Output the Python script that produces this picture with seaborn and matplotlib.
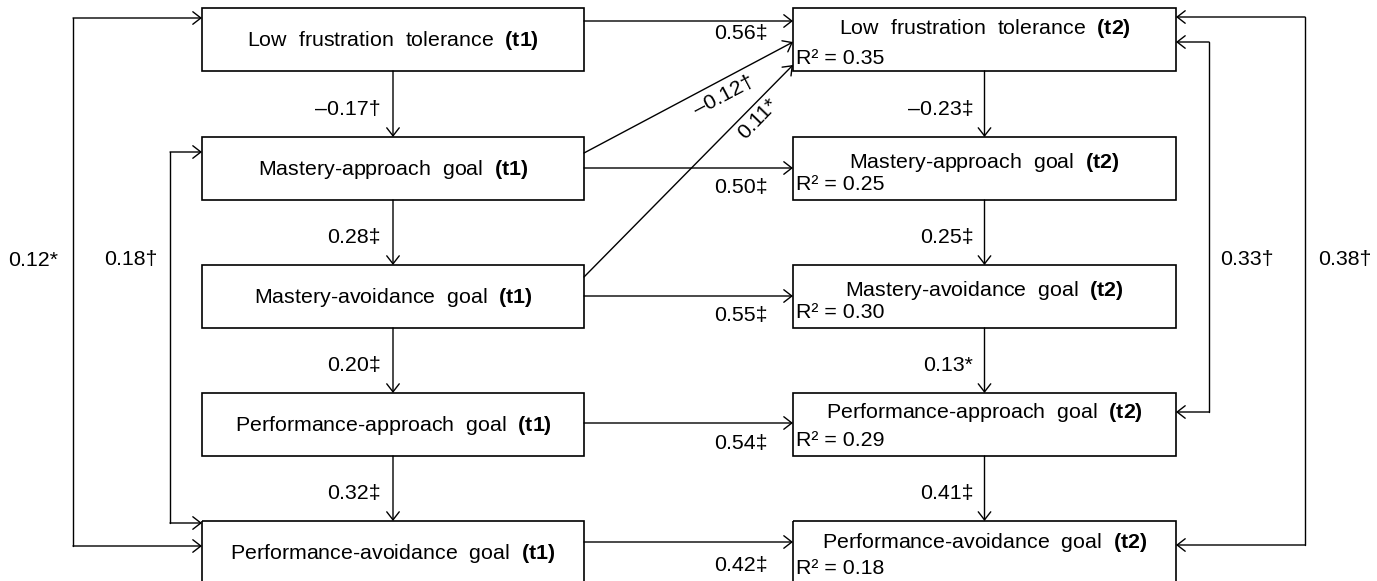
import matplotlib
matplotlib.use("Agg")
import matplotlib.pyplot as plt
import seaborn as sns
from matplotlib.patches import Rectangle, FancyArrowPatch

# ---------------- data ----------------
constructs = ["Low  frustration  tolerance", "Mastery-approach  goal",
              "Mastery-avoidance  goal", "Performance-approach  goal",
              "Performance-avoidance  goal"]
r2_t2 = [0.35, 0.25, 0.30, 0.29, 0.18]
stability = ["0.56‡", "0.50‡", "0.55‡", "0.54‡", "0.42‡"]
t1_paths = ["–0.17†", "0.28‡", "0.20‡", "0.32‡"]
t2_paths = ["–0.23‡", "0.25‡", "0.13*", "0.41‡"]
cross_lagged = ["–0.12†", "0.11*"]
t1_cov = ["0.12*", "0.18†"]
t2_cov = ["0.33†", "0.38†"]

# ---------------- layout (pixels) ----------------
W, H = 1377, 581
box_top = [8, 137, 265, 393, 521]
box_h = 63
LX0, LX1 = 202, 584
RX0, RX1 = 793, 1176
arrow_y = [21, 168, 296, 423, 542]
stab_lab_y = [33, 188, 315, 443, 565]
t2_title_off = [20, 25, 25, 19, 22]
t2_r2_off = [50, 48, 47, 47, 47]

sns.set_theme(style="white")
plt.rcParams["font.family"] = ["Liberation Sans", "DejaVu Sans"]
plt.rcParams["mathtext.fontset"] = "custom"
plt.rcParams["mathtext.rm"] = "Liberation Sans"
plt.rcParams["mathtext.bf"] = "Liberation Sans:bold"
plt.rcParams["text.color"] = "black"

FS = 15.4
LW = 1.0
fig = plt.figure(figsize=(W / 100, H / 100), dpi=100)
ax = fig.add_axes([0, 0, 1, 1])
ax.set_xlim(0, W)
ax.set_ylim(H, 0)
ax.axis("off")

def arrow(p0, p1):
    a = FancyArrowPatch(p0, p1, arrowstyle="->,head_length=0.58,head_width=0.45",
                        mutation_scale=10, lw=LW, color="black",
                        shrinkA=0, shrinkB=0)
    ax.add_patch(a)

lcx = (LX0 + LX1) / 2
rcx = (RX0 + RX1) / 2

def txt(x, y, s, **kw):
    ax.text(x, y, s, fontsize=FS, color="black", **kw)

for i, name in enumerate(constructs):
    t = box_top[i]
    ax.add_patch(Rectangle((LX0, t), LX1 - LX0, box_h, fill=False, lw=1.2, ec="black"))
    ax.add_patch(Rectangle((RX0, t), RX1 - RX0, box_h, fill=False, lw=1.2, ec="black"))
    txt(lcx, t + box_h / 2 + 1, name + "  $\\mathbf{(t1)}$", ha="center", va="center")
    txt(rcx, t + t2_title_off[i], name + "  $\\mathbf{(t2)}$", ha="center", va="center")
    txt(RX0 + 3, t + t2_r2_off[i], f"R² = {r2_t2[i]:.2f}", ha="left", va="center")
    # stability paths
    arrow((LX1, arrow_y[i]), (RX0, arrow_y[i]))
    txt(768, stab_lab_y[i], stability[i], ha="right", va="center")

# within-time paths
for i in range(4):
    y0 = box_top[i] + box_h
    y1 = box_top[i + 1]
    arrow((lcx, y0), (lcx, y1))
    arrow((rcx, y0), (rcx, y1))
    ym = (y0 + y1) / 2 + 5
    txt(lcx - 12, ym, t1_paths[i], ha="right", va="center")
    txt(rcx - 11, ym, t2_paths[i], ha="right", va="center")

# cross-lagged paths
arrow((LX1, 153), (RX0, 42))
arrow((LX1, 277), (RX0, 65))
txt(724, 96, cross_lagged[0], ha="center", va="center",
    rotation=27.9, rotation_mode="anchor")
txt(758, 119, cross_lagged[1], ha="center", va="center",
    rotation=46, rotation_mode="anchor")

# t1 covariances
ax.plot([73, 73], [18, 546], color="black", lw=LW)
arrow((73, 18), (LX0, 18))
arrow((73, 546), (LX0, 546))
ax.plot([170, 170], [152, 523], color="black", lw=LW)
arrow((170, 152), (LX0, 152))
arrow((170, 523), (LX0, 523))
txt(33, 260, t1_cov[0], ha="center", va="center")
txt(131, 260, t1_cov[1], ha="center", va="center")

# t2 covariances
ax.plot([1209, 1209], [42, 412], color="black", lw=LW)
arrow((1209, 42), (RX1, 42))
arrow((1209, 412), (RX1, 412))
ax.plot([1305, 1305], [17, 545], color="black", lw=LW)
arrow((1305, 17), (RX1, 17))
arrow((1305, 545), (RX1, 545))
txt(1220, 260, t2_cov[0], ha="left", va="center")
txt(1318, 260, t2_cov[1], ha="left", va="center")

fig.savefig("out.png", dpi=100)
